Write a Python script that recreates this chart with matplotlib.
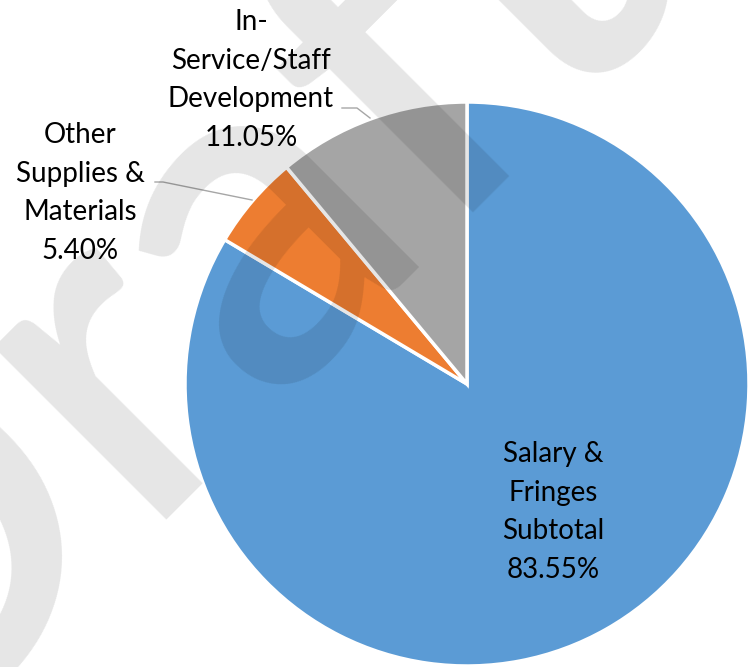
import matplotlib.pyplot as plt

labels = ['Salary &\nFringes\nSubtotal', 'Other\nSupplies &\nMaterials', 'In-\nService/Staff\nDevelopment']
shares = [83.55, 5.40, 11.05]
colors = ['#5B9BD5', '#ED7D31', '#A5A5A5']

plt.rcParams['font.family'] = ['Lato', 'DejaVu Sans']

W, H = 756, 667
fig = plt.figure(figsize=(W / 100, H / 100), dpi=100)
ax = fig.add_axes([0, 0, 1, 1])

# pie in pixel units, y up
wedges, _ = ax.pie(shares, colors=colors, startangle=90, counterclock=False,
                   center=(467, H - 384), radius=282, frame=True,
                   wedgeprops=dict(edgecolor='white', linewidth=2.5))
ax.set_xlim(0, W)
ax.set_ylim(0, H)
ax.set_aspect('equal')
ax.axis('off')

txt = [f'{l}\n{s:.2f}%' for l, s in zip(labels, shares)]
kw = dict(ha='center', va='center', fontsize=20, linespacing=1.6, color='black')
ax.text(553, H - 512, txt[0], **kw)
ax.text(80, H - 193, txt[1], **kw)
ax.text(251, H - 80, txt[2], **kw)

# leader lines
ax.plot([155, 163, 252], [H - 182, H - 182, H - 200], color='#A6A6A6', lw=1)
ax.plot([342, 357, 370], [H - 108, H - 108, H - 118], color='#A6A6A6', lw=1)

# watermark
ax.text(-125, H - 770, 'Draft', rotation=45, rotation_mode='anchor', fontsize=345,
        fontweight='semibold', color='black', alpha=0.1, ha='left', va='baseline',
        zorder=10, clip_on=False)

fig.savefig('out.png', dpi=100)
